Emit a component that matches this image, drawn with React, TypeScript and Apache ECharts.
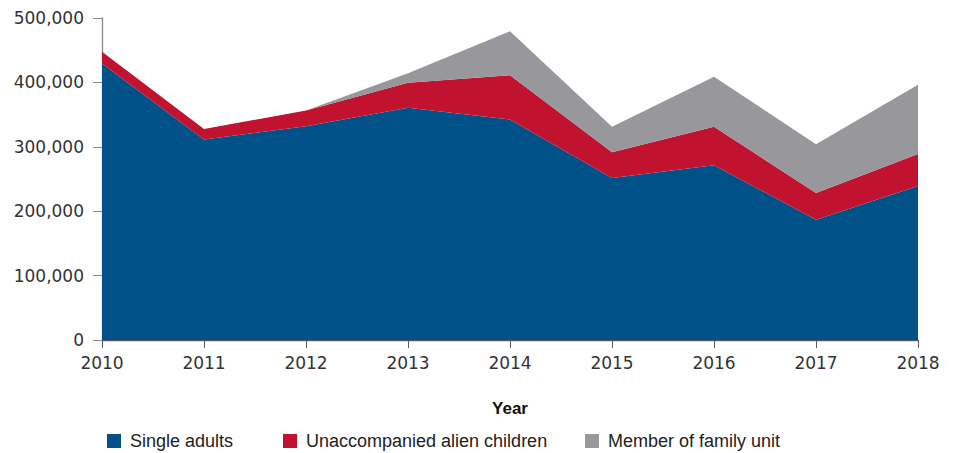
import React, { useEffect, useRef } from "react";
import * as echarts from "echarts";

const years = ["2010", "2011", "2012", "2013", "2014", "2015", "2016", "2017", "2018"];
const singleAdults = [429500, 311500, 332000, 360500, 342500, 251500, 271500, 186800, 239000];
const unaccompanied = [18000, 16100, 24400, 38800, 68500, 40000, 59700, 41400, 50000];
const familyUnit = [0, 0, 0, 15000, 68400, 39800, 77700, 75600, 107200];
const yTicks = [0, 100000, 200000, 300000, 400000, 500000];

const seriesNames = ["Single adults", "Unaccompanied alien children", "Member of family unit"];
const colors = ["#005187", "#c1122f", "#98989c"];

export default function App() {
  const ref = useRef<HTMLDivElement>(null);
  useEffect(() => {
    if (!ref.current) return;
    const chart = echarts.init(ref.current, undefined, { renderer: "svg" });
    const dataSets = [singleAdults, unaccompanied, familyUnit];
    const legendLefts = [107, 283, 585];
    chart.setOption({
      animation: false,
      grid: { left: 102, right: 41, top: 18, bottom: 113 },
      legend: seriesNames.map((n, i) => ({
        data: [n],
        left: legendLefts[i],
        top: 432,
        padding: 0,
        icon: "rect",
        itemWidth: 14,
        itemHeight: 14,
        selectedMode: false,
        textStyle: {
          fontFamily: "Liberation Sans",
          fontSize: 18,
          color: "#222",
          padding: [0, 0, 0, 4],
        },
      })),
      xAxis: {
        type: "category",
        data: years,
        boundaryGap: false,
        name: "Year",
        nameLocation: "middle",
        nameGap: 60,
        nameTextStyle: {
          fontFamily: "Liberation Sans",
          fontWeight: "bold",
          fontSize: 17,
          color: "#111",
          verticalAlign: "top",
        },
        axisLine: { lineStyle: { color: "#5a5868", width: 1.3 } },
        axisTick: { alignWithLabel: true, length: 8, lineStyle: { color: "#5a5868" } },
        axisLabel: {
          fontFamily: "DejaVu Sans",
          fontSize: 17,
          color: "#333",
          margin: 14,
        },
        splitLine: { show: false },
      },
      yAxis: {
        type: "value",
        min: yTicks[0],
        max: yTicks[yTicks.length - 1],
        interval: 100000,
        axisLine: { show: true, lineStyle: { color: "#8a8a8a", width: 1.3 } },
        axisTick: { show: true, length: 9, lineStyle: { color: "#8a8a8a" } },
        axisLabel: {
          fontFamily: "DejaVu Sans",
          fontSize: 17,
          color: "#333",
          margin: 18,
          formatter: (v: number) => v.toLocaleString("en-US"),
        },
        splitLine: { show: false },
      },
      series: seriesNames.map((n, i) => ({
        name: n,
        type: "line",
        stack: "total",
        data: dataSets[i],
        symbol: "none",
        lineStyle: { width: 0 },
        areaStyle: { color: colors[i], opacity: 1 },
        itemStyle: { color: colors[i] },
      })),
    });
    return () => chart.dispose();
  }, []);
  return <div ref={ref} style={{ width: 959, height: 453, position: "absolute", left: 0, top: 0 }} />;
}
